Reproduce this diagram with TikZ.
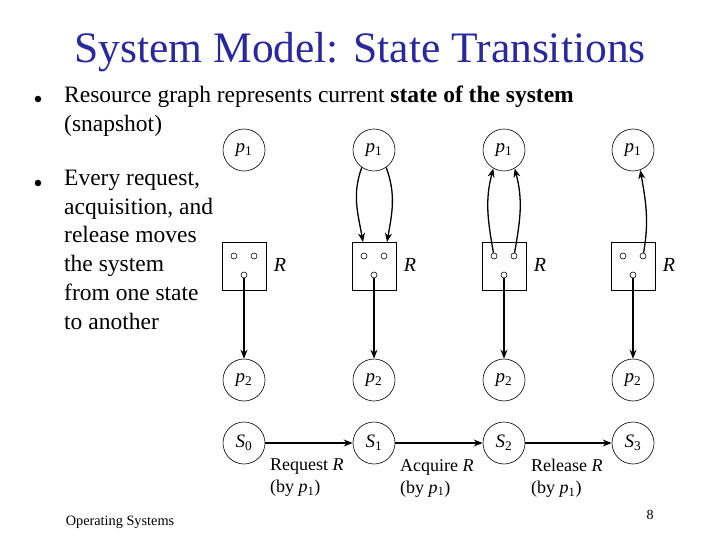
\documentclass[tikz,border=0pt]{standalone}
\usepackage{fontspec}
\setmainfont{Liberation Serif}
\usetikzlibrary{arrows.meta}
\definecolor{titleblue}{RGB}{40,40,160}
\newcommand{\vv}[2]{\textit{#1}\textsubscript{#2}}
\begin{document}
\begin{tikzpicture}[x=1pt,y=-1pt,
  proc/.style={circle,draw,line width=0.6pt,minimum size=42pt,inner sep=0pt,font=\fontsize{19}{19}\selectfont},
  res/.style={draw,line width=0.6pt,minimum width=44pt,minimum height=48pt,inner sep=0pt},
  dot/.style={circle,draw,line width=0.6pt,minimum size=6pt,inner sep=0pt,fill=white},
  bul/.style={circle,fill=black,minimum size=6.5pt,inner sep=0pt},
  edge/.style={line width=1.3pt,-{Stealth[length=9pt,width=7pt]}},
  lbl/.style={font=\fontsize{18}{22}\selectfont,align=left,anchor=north west,inner sep=0pt},
  txt/.style={font=\fontsize{23.5}{28.7}\selectfont,align=left,anchor=north west,inner sep=0pt}]
\useasboundingbox (0,0) rectangle (720,540);
\node[font=\fontsize{43.5}{43.5}\selectfont,text=titleblue] (title) at (360,52) {System Model: State Transitions};
\node[bul] (b1) at (38,99) {};
\node[txt] (t1) at (64,86) {Resource graph represents current \textbf{state of the system}\\(snapshot)};
\node[bul] (b2) at (38,183) {};
\node[txt] (t2) at (64,170) {Every request,\\acquisition, and\\release moves\\the system\\from one state\\to another};
\foreach \i/\x in {0/244,1/374,2/504,3/633}{
  \node[proc] (p1\i) at (\x,150) {\vv{p}{1}};
  \node[res] (r\i) at (\x,266) {};
  \node[dot] (dl\i) at (\x-10,256) {};
  \node[dot] (dr\i) at (\x+10,256) {};
  \node[dot] (db\i) at (\x,275) {};
  \node[font=\itshape\fontsize{20}{20}\selectfont] (rl\i) at (\x+36,265) {R};
  \node[proc] (p2\i) at (\x,380) {\vv{p}{2}};
  \node[proc] (s\i) at (\x,443) {\vv{S}{\i}};
  \draw[edge] (db\i.south) -- (p2\i);
}
\coordinate (a1) at (363,242); \coordinate (a2) at (387,242);
\draw[edge] (p11.235) to[out=250,in=100] (a1);
\draw[edge] (p11.305) to[out=290,in=80] (a2);
\draw[edge] (dl2) to[out=100,in=255] (p12.240);
\draw[edge] (dr2) to[out=80,in=285] (p12.300);
\draw[edge] (dr3) to[out=80,in=280] (p13.290);
\draw[edge] (s0) -- (s1);
\draw[edge] (s1) -- (s2);
\draw[edge] (s2) -- (s3);
\node[lbl] (l1) at (270,459) {Request \textit{R}\\(by \vv{p}{1})};
\node[lbl] (l2) at (400,459) {Acquire \textit{R}\\(by \vv{p}{1})};
\node[lbl] (l3) at (531,459) {Release \textit{R}\\(by \vv{p}{1})};
\node[font=\fontsize{14.3}{14.3}\selectfont] (foot) at (120,522) {Operating Systems};
\node[font=\fontsize{14}{14}\selectfont] (pg) at (650,515) {8};
\end{tikzpicture}
\end{document}
